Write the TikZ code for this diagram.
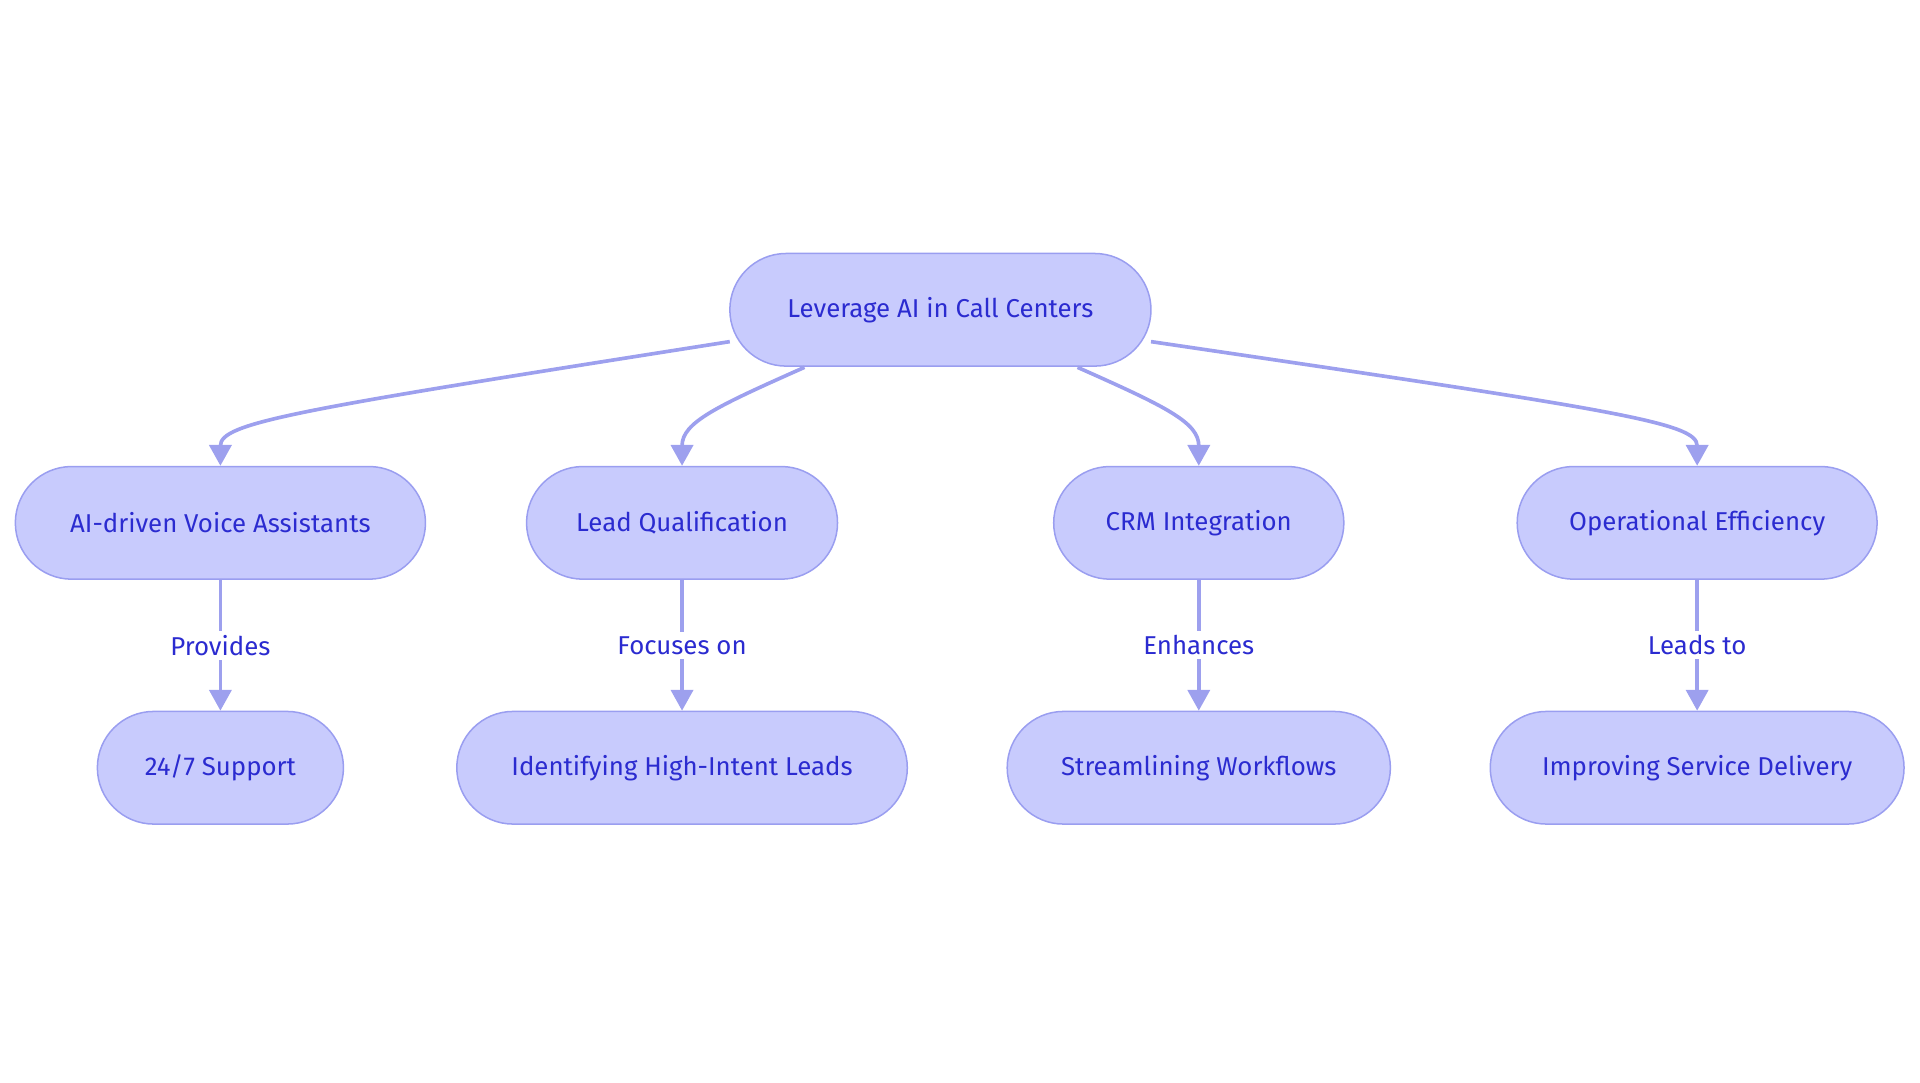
\documentclass[tikz,border=0pt]{standalone}
\usepackage{fontspec}
\setmainfont{Fira Sans}
\usetikzlibrary{arrows.meta}
\definecolor{boxfill}{HTML}{C8CBFD}
\definecolor{boxline}{HTML}{9A9EF0}
\definecolor{txt}{HTML}{2B2BD0}
\definecolor{edge}{HTML}{9DA0EE}
\tikzset{
  box/.style={draw=boxline, fill=boxfill, line width=0.7pt, rounded corners=0.92cm,
    minimum height=1.84cm, text=txt, font=\fontsize{12}{14}\selectfont\addfontfeature{LetterSpace=0}},
  link/.style={draw=edge, line width=1.7pt, -{Triangle[length=0.34cm,width=0.36cm]}},
  lab/.style={fill=white, text=txt, font=\fontsize{12}{14}\selectfont, inner sep=2pt}
}
\begin{document}
\begin{tikzpicture}[x=0.02cm,y=-0.02cm]
\useasboundingbox (0,0) rectangle (1568,884);
\node[box, minimum width=6.88cm] (root) at (768,253) {Leverage AI in Call Centers};
\node[box, minimum width=6.70cm] (a) at (180,427) {AI-driven Voice Assistants};
\node[box, minimum width=5.08cm] (b) at (557,427) {Lead Qualification};
\node[box, minimum width=4.74cm] (c) at (979,427) {CRM Integration};
\node[box, minimum width=5.88cm] (d) at (1386,427) {Operational Efficiency};
\node[box, minimum width=4.02cm] (a2) at (180,627) {24/7 Support};
\node[box, minimum width=7.36cm] (b2) at (557,627) {Identifying High-Intent Leads};
\node[box, minimum width=6.26cm] (c2) at (979,627) {Streamlining Workflows};
\node[box, minimum width=6.76cm] (d2) at (1386,627) {Improving Service Delivery};
\coordinate (r1) at (596,279);
\coordinate (r2) at (657,300);
\coordinate (r3) at (880,300);
\coordinate (r4) at (940,279);
\draw[link] (r1) .. controls (240,335) and (180,345) .. (a.north);
\draw[link] (r2) .. controls (585,332) and (557,345) .. (b.north);
\draw[link] (r3) .. controls (952,332) and (979,345) .. (c.north);
\draw[link] (r4) .. controls (1320,335) and (1386,345) .. (d.north);
\draw[link] (a) -- node[lab] {Provides} (a2);
\draw[link] (b) -- node[lab] {Focuses on} (b2);
\draw[link] (c) -- node[lab] {Enhances} (c2);
\draw[link] (d) -- node[lab] {Leads to} (d2);
\end{tikzpicture}
\end{document}
